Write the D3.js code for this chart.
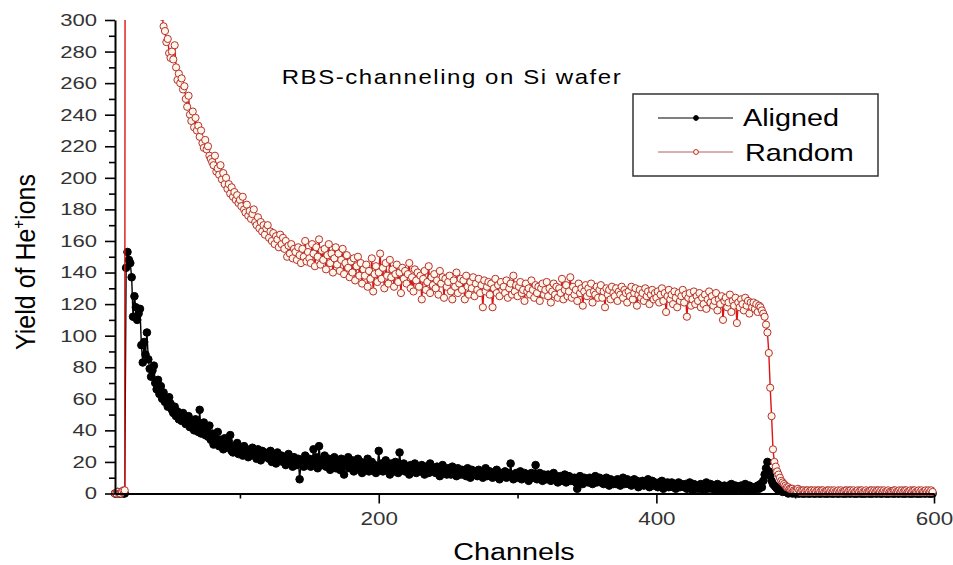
<!DOCTYPE html>
<html>
<head>
<meta charset="utf-8">
<script src="https://cdn.jsdelivr.net/npm/d3@7"></script>
<style>
    body { margin: 0; background: #fff; }
    svg { font-family: "Liberation Sans", Arial, sans-serif; }
</style>
</head>
<body>
<div id="chart"></div>
<script>
// one value per channel, channel 10 ... 599
const firstChannel = 10;
const channelStep = 1;

const alignedYield = [
    0, 0, 1, 0, 0, 1, 0, 0, 143, 153,
    148, 146, 137, 112, 125, 118, 110, 114, 117, 94,
    83, 96, 88, 102, 85, 79, 74, 78, 81, 70,
    66, 72, 63, 68, 60, 64, 58, 60, 55, 61,
    57, 53, 51, 55, 49, 52, 47, 50, 46, 51,
    48, 44, 45, 49, 42, 46, 44, 40, 47, 43,
    39, 53, 38, 42, 45, 37, 41, 36, 43, 34,
    38, 31, 36, 33, 39, 30, 34, 32, 28, 35,
    31, 29, 33, 37, 27, 26, 30, 28, 32, 25,
    29, 27, 24, 30, 26, 28, 23, 27, 25, 29,
    24, 26, 22, 28, 25, 21, 27, 23, 26, 23,
    25, 22, 27, 20, 24, 23, 19, 26, 22, 21,
    24, 20, 23, 18, 22, 25, 19, 21, 17, 23,
    20, 18, 22, 9, 19, 21, 17, 24, 18, 20,
    22, 17, 20, 28, 19, 23, 16, 30, 21, 18,
    20, 24, 17, 19, 22, 15, 21, 18, 23, 16,
    19, 21, 15, 22, 18, 12, 20, 17, 23, 16,
    18, 21, 14, 19, 17, 22, 15, 20, 13, 18,
    16, 19, 22, 14, 17, 20, 15, 18, 13, 17,
    27, 16, 19, 14, 18, 21, 15, 17, 12, 19,
    16, 14, 20, 17, 13, 26, 18, 15, 19, 14,
    17, 15, 12, 18, 16, 14, 19, 13, 17, 15,
    14, 18, 16, 12, 17, 15, 13, 19, 14, 16,
    15, 13, 17, 14, 11, 16, 18, 13, 15, 12,
    16, 14, 12, 17, 13, 15, 11, 16, 14, 12,
    15, 12, 14, 11, 16, 13, 10, 15, 12, 14,
    13, 11, 15, 12, 14, 10, 13, 16, 11, 12,
    14, 12, 10, 13, 11, 15, 12, 9, 13, 11,
    12, 14, 10, 13, 11, 19, 12, 9, 11, 13,
    10, 12, 14, 9, 11, 13, 10, 12, 8, 11,
    13, 10, 12, 18, 9, 11, 13, 10, 8, 12,
    10, 9, 12, 11, 8, 10, 13, 9, 11, 7,
    9, 11, 8, 10, 12, 7, 9, 11, 8, 10,
    8, 10, 7, 3, 9, 11, 8, 6, 10, 8,
    9, 7, 10, 8, 6, 9, 11, 7, 8, 10,
    7, 9, 6, 8, 10, 7, 5, 9, 8, 6,
    8, 6, 9, 7, 5, 8, 10, 6, 7, 9,
    6, 8, 5, 7, 9, 6, 8, 4, 7, 6,
    8, 5, 7, 6, 9, 4, 6, 8, 5, 7,
    6, 4, 7, 5, 8, 3, 6, 5, 7, 4,
    5, 7, 4, 6, 3, 5, 7, 4, 6, 5,
    4, 6, 3, 5, 7, 4, 2, 6, 5, 3,
    5, 3, 6, 4, 2, 5, 7, 3, 4, 6,
    3, 5, 4, 2, 6, 3, 5, 4, 2, 5,
    4, 2, 5, 3, 6, 4, 2, 5, 3, 4,
    3, 5, 2, 4, 6, 3, 2, 5, 3, 4,
    2, 4, 3, 5, 3, 6, 4, 8, 12, 16,
    20, 14, 11, 8, 6, 5, 4, 3, 2, 3,
    2, 1, 2, 1, 1, 0, 1, 1, 0, 1,
    0, 1, 0, 0, 1, 0, 0, 0, 1, 0,
    0, 0, 1, 0, 0, 0, 1, 0, 0, 0,
    1, 0, 0, 0, 0, 1, 0, 0, 0, 1,
    0, 0, 0, 1, 0, 0, 0, 0, 1, 0,
    0, 1, 0, 0, 0, 0, 1, 0, 0, 0,
    0, 0, 1, 0, 0, 0, 0, 1, 0, 0,
    1, 0, 0, 0, 1, 0, 0, 0, 0, 1,
    0, 0, 0, 1, 0, 0, 1, 0, 0, 0,
    0, 1, 0, 0, 0, 0, 1, 0, 0, 0,
    0, 0, 1, 0, 0, 1, 0, 0, 0, 0
];

const randomYield = [
    0, 0, 1, 0, 0, 1, 2, 2, 1250, 1100,
    1000, 930, 860, 800, 740, 690, 650, 610, 575, 545,
    515, 490, 465, 445, 425, 405, 390, 375, 360, 348,
    338, 327, 318, 309, 302, 296, 293, 286, 288, 279,
    276, 280, 275, 284, 270, 262, 266, 260, 263, 256,
    258, 250, 245, 252, 240, 236, 242, 232, 238, 230,
    233, 226, 230, 222, 219, 224, 218, 220, 214, 212,
    210, 208, 214, 204, 206, 202, 208, 199, 203, 196,
    200, 193, 196, 190, 194, 188, 191, 186, 189, 184,
    186, 182, 188, 180, 178, 183, 176, 179, 174, 177,
    180, 172, 170, 175, 168, 172, 166, 170, 164, 168,
    170, 162, 166, 160, 165, 158, 163, 161, 156, 164,
    158, 162, 155, 160, 150, 157, 152, 158, 149, 155,
    153, 148, 156, 151, 146, 155, 150, 160, 147, 153,
    149, 146, 158, 152, 144, 156, 150, 161, 145, 154,
    148, 155, 142, 151, 158, 146, 152, 140, 149, 156,
    145, 152, 141, 148, 155, 139, 146, 151, 143, 137,
    147, 140, 149, 135, 144, 150, 138, 146, 133, 142,
    138, 145, 131, 141, 136, 149, 128, 139, 144, 134,
    140, 152, 136, 143, 130, 146, 138, 133, 148, 137,
    142, 131, 139, 145, 134, 140, 127, 143, 136, 141,
    133, 139, 146, 130, 137, 128, 142, 135, 140, 131,
    138, 123, 136, 141, 129, 134, 144, 127, 137, 132,
    139, 130, 135, 126, 141, 133, 137, 124, 136, 131,
    134, 138, 128, 123, 135, 131, 140, 127, 133, 136,
    129, 135, 123, 138, 131, 126, 134, 130, 137, 125,
    133, 129, 136, 127, 132, 118, 135, 128, 131, 134,
    126, 133, 118, 130, 136, 127, 132, 125, 134, 129,
    131, 127, 135, 124, 130, 133, 126, 138, 128, 132,
    125, 131, 134, 127, 129, 122, 133, 128, 130, 126,
    135, 129, 124, 132, 127, 131, 122, 130, 133, 126,
    129, 134, 125, 130, 121, 128, 133, 126, 131, 124,
    130, 127, 136, 123, 129, 132, 125, 128, 137, 124,
    131, 126, 129, 122, 133, 127, 130, 119, 128, 132,
    125, 130, 127, 133, 121, 128, 126, 131, 124, 129,
    132, 124, 128, 118, 130, 126, 129, 123, 131, 127,
    125, 130, 122, 128, 126, 131, 124, 129, 127, 121,
    128, 125, 131, 123, 127, 130, 119, 126, 129, 124,
    127, 122, 130, 125, 128, 120, 126, 129, 123, 127,
    124, 128, 121, 126, 130, 122, 127, 115, 125, 129,
    123, 126, 120, 128, 124, 118, 127, 122, 125, 129,
    121, 126, 112, 124, 127, 119, 123, 128, 120, 125,
    122, 127, 118, 124, 120, 126, 117, 123, 128, 121,
    125, 119, 122, 127, 116, 123, 120, 125, 110, 122,
    124, 118, 121, 126, 115, 122, 119, 124, 108, 121,
    118, 123, 120, 116, 124, 119, 122, 114, 121, 118,
    121, 117, 120, 115, 119, 118, 116, 114, 112, 107,
    102, 89, 67, 49, 28, 20, 17, 14, 12, 10,
    8, 7, 6, 5, 4, 4, 3, 3, 3, 2,
    2, 2, 3, 2, 1, 2, 2, 1, 2, 2,
    1, 2, 2, 1, 2, 1, 2, 2, 1, 2,
    2, 1, 1, 2, 2, 1, 2, 1, 2, 1,
    1, 2, 1, 2, 1, 1, 2, 2, 1, 2,
    2, 1, 2, 1, 1, 2, 1, 2, 2, 1,
    1, 2, 1, 1, 2, 2, 1, 2, 1, 2,
    2, 1, 2, 1, 2, 1, 1, 2, 1, 1,
    1, 2, 2, 1, 1, 2, 1, 2, 1, 2,
    2, 1, 1, 2, 1, 2, 2, 1, 1, 2,
    1, 2, 1, 1, 2, 1, 2, 1, 2, 1
];

const yTickValues = [0, 20, 40, 60, 80, 100, 120, 140, 160, 180, 200, 220, 240, 260, 280, 300];
const yMinorTicks = [10, 30, 50, 70, 90, 110, 130, 150, 170, 190, 210, 230, 250, 270, 290];
const xTickValues = [200, 400, 600];
const xMinorTicks = [100, 300, 500];

const width = 953, height = 565;

const svg = d3.select("#chart").append("svg")
    .attr("width", width)
    .attr("height", height);

const x = d3.scaleLinear().domain([10, 600]).range([115, 934]);
const y = d3.scaleLinear().domain([0, 300]).range([493.5, 20]);

svg.append("clipPath").attr("id", "plotClip")
    .append("rect")
    .attr("x", 100).attr("y", 20)
    .attr("width", 850).attr("height", 500);

const plot = svg.append("g").attr("clip-path", "url(#plotClip)");

const series = [
    {name: "Aligned", values: alignedYield, line: "#000", stroke: "#000", fill: "#000", r: 3.8},
    {name: "Random", values: randomYield, line: "#e01212", stroke: "#b5302c", fill: "#fff6ea", r: 3.6}
];

series.forEach(s => {
    let pts = s.values.map((v, i) => ({ch: firstChannel + i * channelStep, v: v}));

    let line = d3.line()
        .x(d => x(d.ch))
        .y(d => y(d.v));

    plot.append("path")
        .datum(pts)
        .attr("d", line)
        .attr("fill", "none")
        .attr("stroke", s.line)
        .attr("stroke-width", 1.4);

    plot.selectAll(".pt-" + s.name)
        .data(pts)
        .enter()
        .append("circle")
        .attr("class", "pt-" + s.name)
        .attr("cx", d => x(d.ch))
        .attr("cy", d => y(d.v))
        .attr("r", s.r)
        .attr("fill", s.fill)
        .attr("stroke", s.stroke)
        .attr("stroke-width", 1);
});

// axes
const yAxis = svg.append("g")
    .attr("transform", "translate(115,0)")
    .call(d3.axisLeft(y).tickValues(yTickValues).tickSize(10).tickSizeOuter(0));
svg.append("g")
    .attr("transform", "translate(115,0)")
    .call(d3.axisLeft(y).tickValues(yMinorTicks).tickSize(6).tickFormat(""))
    .select(".domain").remove();

yAxis.selectAll(".tick text")
    .attr("x", -18 / 1.3)
    .attr("transform", "scale(1.3,1)")
    .style("font-size", "17px")
    .attr("fill", "#333");

const xAxis = svg.append("g")
    .attr("transform", "translate(0,493.5)")
    .call(d3.axisBottom(x).tickValues(xTickValues).tickSize(10).tickPadding(8).tickSizeOuter(0));
svg.append("g")
    .attr("transform", "translate(0,493.5)")
    .call(d3.axisBottom(x).tickValues(xMinorTicks).tickSize(5).tickFormat(""))
    .select(".domain").remove();

xAxis.selectAll(".tick text")
    .attr("transform", "scale(1.18,1)")
    .style("font-size", "19px")
    .attr("fill", "#333");

svg.selectAll(".domain").attr("stroke-width", 2);
svg.selectAll(".tick line").attr("stroke-width", 1.6);

// axis titles
svg.append("text")
    .attr("transform", "translate(514,560) scale(1.25,1)")
    .attr("text-anchor", "middle")
    .style("font-size", "23px")
    .text("Channels");

const yTitle = svg.append("text")
    .attr("transform", "translate(35,262) rotate(-90) scale(1,1.12)")
    .attr("text-anchor", "middle")
    .style("font-size", "25px");
yTitle.append("tspan").text("Yield of He");
yTitle.append("tspan").attr("dy", -10).style("font-size", "15px").text("+");
yTitle.append("tspan").attr("dy", 10).text("ions");

svg.append("text")
    .attr("transform", "translate(452,84) scale(1.2,1)")
    .attr("text-anchor", "middle")
    .style("font-size", "20px")
    .style("letter-spacing", "1.3px")
    .text("RBS-channeling on Si wafer");

// legend
const legend = svg.append("g");
legend.append("rect")
    .attr("x", 633).attr("y", 94)
    .attr("width", 245).attr("height", 82)
    .attr("fill", "#fff")
    .attr("stroke", "#333")
    .attr("stroke-width", 1.5);

const legendRows = [
    {s: series[0], y: 118, base: 126, tx: 743, line: "#000"},
    {s: series[1], y: 152, base: 161, tx: 745, line: "#b06060"}
];
legendRows.forEach(d => {
    legend.append("line")
        .attr("x1", 658).attr("x2", 733)
        .attr("y1", d.y).attr("y2", d.y)
        .attr("stroke", d.line)
        .attr("stroke-width", 1);
    legend.append("circle")
        .attr("cx", 696).attr("cy", d.y)
        .attr("r", 2.4)
        .attr("fill", d.s.fill)
        .attr("stroke", d.s.stroke);
    legend.append("text")
        .attr("transform", "translate(" + d.tx + "," + d.base + ") scale(1.2,1)")
        .style("font-size", "24px")
        .text(d.s.name);
});
</script>
</body>
</html>
